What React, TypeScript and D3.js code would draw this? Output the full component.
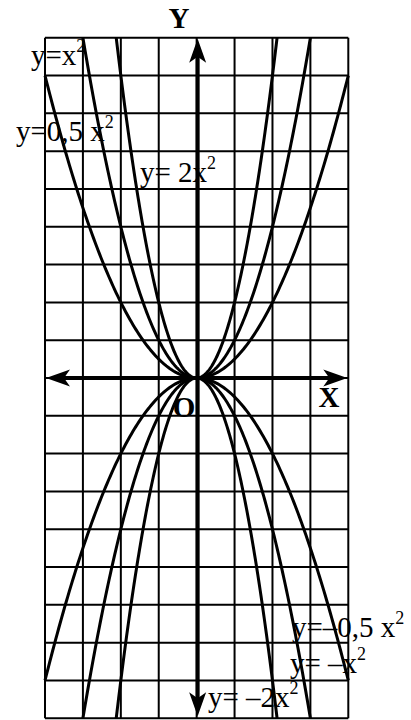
import React from "react";
import * as d3 from "d3";

const xTicks = [-4, -3, -2, -1, 0, 1, 2, 3, 4];
const yTicks = [-9, -8, -7, -6, -5, -4, -3, -2, -1, 0, 1, 2, 3, 4, 5, 6, 7, 8, 9];
const coefficients = [0.5, 1, 2, -0.5, -1, -2];
const curveLabels = ["y=0,5 x", "y=x", "y= 2x", "y=\u20130,5 x", "y= \u2013x", "y= \u20132x"];

const W = 411;
const H = 720;

export default function App() {
  const x = d3.scaleLinear().domain([-4, 4]).range([45, 348.3]);
  const y = d3.scaleLinear().domain([9, -9]).range([37.7, 718.3]);

  const line = d3
    .line<[number, number]>()
    .x((d) => x(d[0]))
    .y((d) => y(d[1]))
    .curve(d3.curveLinear);

  const curves = coefficients.map((a) => {
    const xm = Math.min(4, Math.sqrt(9 / Math.abs(a)));
    const pts: [number, number][] = d3
      .range(0, 201)
      .map((i) => -xm + (2 * xm * i) / 200)
      .map((v) => [v, a * v * v]);
    return line(pts) as string;
  });

  // label anchors (pixel positions)
  const labelPos: [number, number][] = [
    [16, 141],
    [31, 65],
    [140, 181.5],
    [292, 637],
    [290, 673],
    [208, 706.5],
  ];

  const x0 = x(0);
  const y0 = y(0);
  const arrow = (tx: number, ty: number, dir: string) => {
    const L = 24, Wd = 8.5, N = 18;
    let pts: number[][] = [];
    if (dir === "up") pts = [[0, 0], [-Wd, L], [0, N], [Wd, L]];
    if (dir === "down") pts = [[0, 0], [-Wd, -L], [0, -N], [Wd, -L]];
    if (dir === "left") pts = [[0, 0], [L, -Wd], [N, 0], [L, Wd]];
    if (dir === "right") pts = [[0, 0], [-L, -Wd], [-N, 0], [-L, Wd]];
    return pts.map((p) => `${tx + p[0]},${ty + p[1]}`).join(" ");
  };

  const serif = "'Liberation Serif', 'Times New Roman', serif";

  return (
    <svg
      width={W}
      height={H}
      style={{ position: "absolute", left: 0, top: 0, background: "#fff" }}
    >
      <rect x={0} y={0} width={W} height={H} fill="#fff" />
      <g fontFamily={serif} fontSize={29} fill="#000">
        {curveLabels.map((t, i) => (
          <text key={i} x={labelPos[i][0]} y={labelPos[i][1]}>
            {t}
            <tspan fontSize={18} dy={-13}>2</tspan>
          </text>
        ))}
      </g>
      <g stroke="#000" strokeWidth={2}>
        {xTicks.map((t) => (
          <line key={"vx" + t} x1={x(t)} x2={x(t)} y1={y(9)} y2={y(-9)} />
        ))}
        {yTicks.map((t) => (
          <line key={"hy" + t} x1={x(-4)} x2={x(4)} y1={y(t)} y2={y(t)} />
        ))}
      </g>
      <g fill="none" stroke="#000" strokeWidth={3}>
        {curves.map((d, i) => (
          <path key={i} d={d} />
        ))}
      </g>
      <g stroke="#000" strokeWidth={4}>
        <line x1={x0 + 1} x2={x0 + 1} y1={y(9) + 10} y2={y(-9) - 10} />
        <line x1={x(-4) + 10} x2={x(4) - 10} y1={y0} y2={y0} />
      </g>
      <g fill="#000" stroke="none">
        <polygon points={arrow(x0 + 1, y(9) + 1, "up")} />
        <polygon points={arrow(x0 + 1, y(-9) - 2, "down")} />
        <polygon points={arrow(x(-4) + 1, y0, "left")} />
        <polygon points={arrow(x(4) - 1, y0, "right")} />
      </g>
      <g fontFamily={serif} fontSize={29} fontWeight="bold" fill="#000" textAnchor="middle">
        <text x={179} y={28}>Y</text>
        <text x={329} y={407}>X</text>
        <text x={184} y={417}>O</text>
      </g>
    </svg>
  );
}
